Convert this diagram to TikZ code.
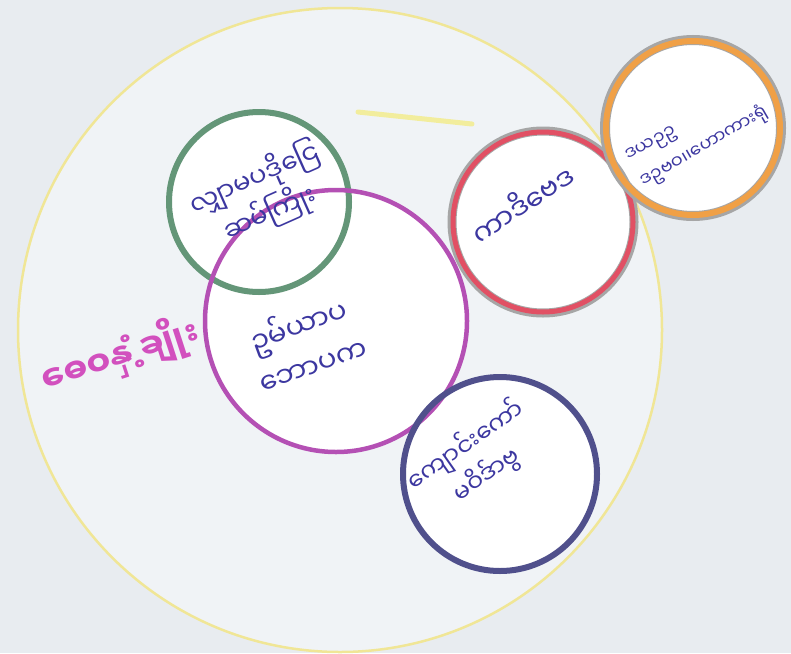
\documentclass[tikz,border=0pt]{standalone}
\usepackage{fontspec}
\newfontfamily\mmfont[Script=Myanmar]{Noto Sans Myanmar UI}
\definecolor{paper}{RGB}{232,236,240}
\definecolor{inner}{RGB}{240,243,246}
\definecolor{ylw}{RGB}{240,230,150}
\definecolor{grn}{RGB}{100,150,120}
\definecolor{mag}{RGB}{180,80,180}
\definecolor{rd}{RGB}{225,80,100}
\definecolor{org}{RGB}{240,160,70}
\definecolor{blu}{RGB}{80,80,140}
\definecolor{ink}{RGB}{60,55,160}
\definecolor{pinkink}{RGB}{210,80,190}
\begin{document}
\begin{tikzpicture}[x=1pt,y=-1pt,
  ring/.style={circle,inner sep=0pt,fill=white},
  txt/.style={text=ink,align=center,inner sep=0pt}]
\useasboundingbox[fill=paper] (0,0) rectangle (791,653);
% big circle
\fill[inner] (340,330) circle[radius=322];
\draw[ylw,line width=2.5pt] (340,330) circle[radius=322];
% faint yellow stroke
\draw[ylw!80!yellow,line width=5pt,line cap=round,opacity=0.7] (358,112) -- (472,124);
% fills
\node[ring,minimum size=180pt] (green) at (259,202) {};
\node[ring,minimum size=262pt] (center) at (336,321) {};
\node[ring,minimum size=182pt] (red) at (543,222) {};
\node[ring,minimum size=176pt] (orange) at (693,128) {};
\node[ring,minimum size=194pt] (blue) at (500,474) {};
% outlines
\draw[grn,line width=6pt] (green) circle[radius=90];
\draw[mag,line width=4.5pt] (center) circle[radius=131];
\draw[gray!70,line width=9pt] (red) circle[radius=91];
\draw[rd,line width=5pt] (red) circle[radius=90];
\draw[gray!70,line width=10pt] (orange) circle[radius=88];
\draw[org,line width=6pt] (orange) circle[radius=87];
\draw[blu,line width=6pt] (blue) circle[radius=97];
% texts
\node[txt,rotate=24,font=\mmfont\fontsize{26}{38}\selectfont] (tg) at (262,196) {လျှာမပဒိုငြေ\\ဆမ်ကြိုး};
\node[txt,rotate=20,font=\mmfont\fontsize{28}{42}\selectfont] (tc) at (305,343) {ဥမ်ယာပ\\ဘောပက};
\node[txt,rotate=33,font=\mmfont\fontsize{28}{40}\selectfont] (tr) at (522,203) {ကာဒိဗေဒ};
\node[txt,rotate=30,align=left,font=\mmfont\fontsize{18}{30}\selectfont] (to) at (698,136) {ဒယဉဥ\\ဒဥဗဝ၊၊ဟောကားရုံ};
\node[txt,rotate=35,font=\mmfont\fontsize{24}{36}\selectfont] (tb) at (476,460) {ကျောင်းကော်\\မဝိဒ်ာဗွ};
\node[font=\mmfont\bfseries\fontsize{34}{40}\selectfont,text=pinkink,rotate=18,inner sep=0pt] (tp) at (120,356) {ဓေဝနှံ့ချိုး};
\end{tikzpicture}
\end{document}
